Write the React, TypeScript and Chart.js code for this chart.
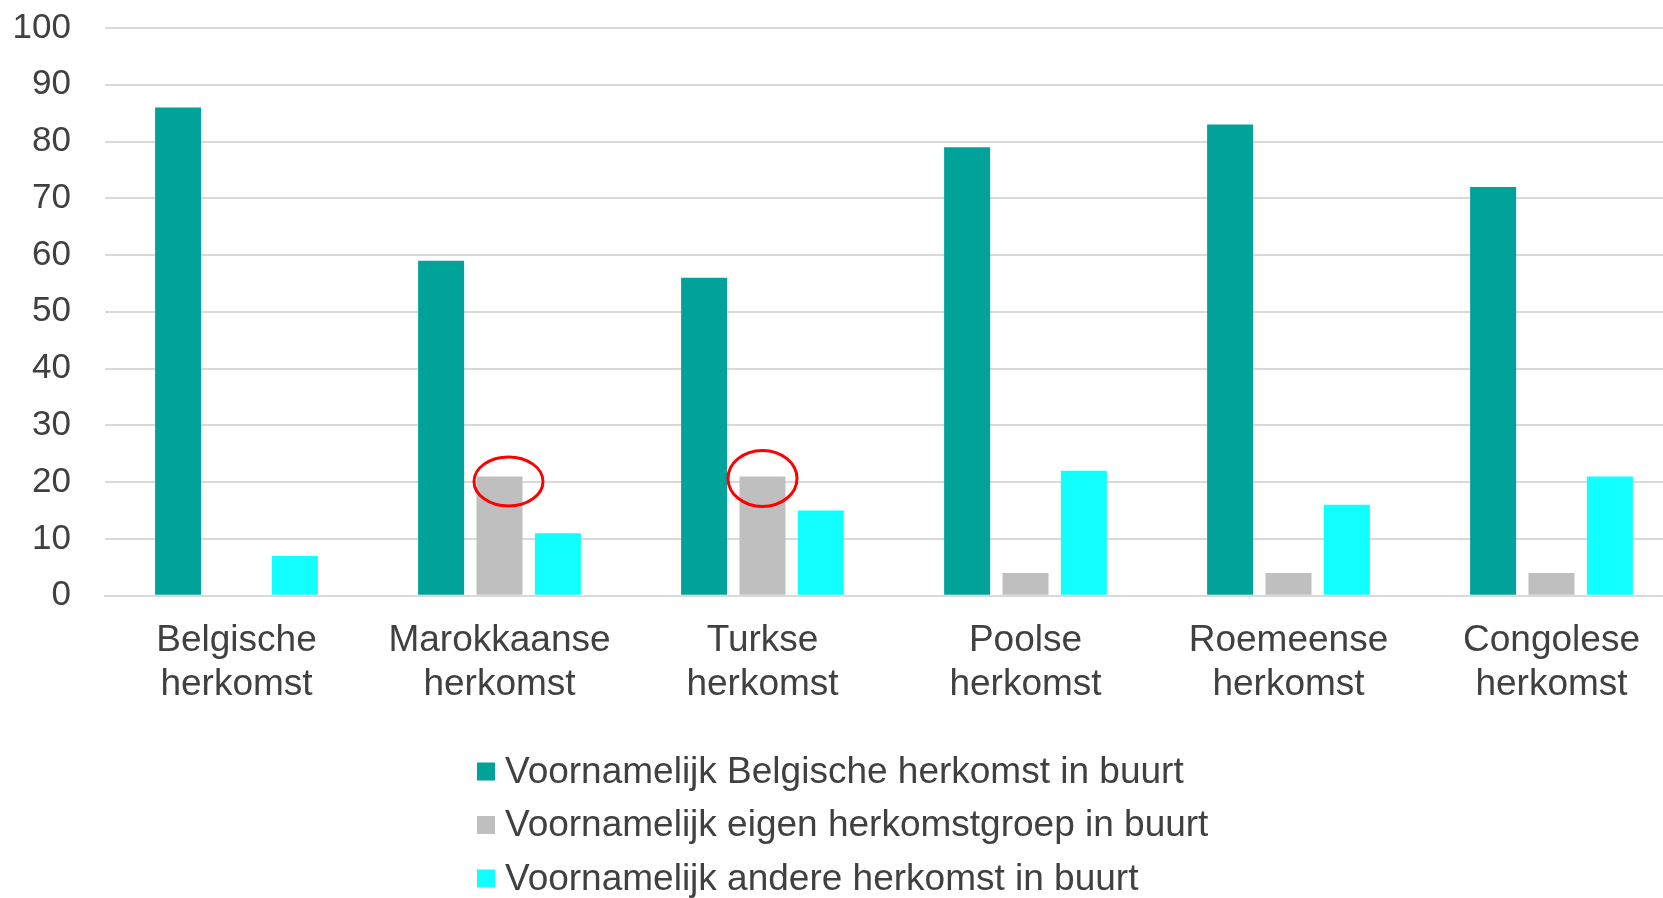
import React, { useEffect, useRef } from "react";
import { Chart, registerables } from "chart.js";

Chart.register(...registerables);

const FONT = "'Liberation Sans', Arial, Helvetica, sans-serif";

const categories: string[][] = [
  ["Belgische", "herkomst"],
  ["Marokkaanse", "herkomst"],
  ["Turkse", "herkomst"],
  ["Poolse", "herkomst"],
  ["Roemeense", "herkomst"],
  ["Congolese", "herkomst"],
];

const seriesLabels = [
  "Voornamelijk Belgische herkomst in buurt",
  "Voornamelijk eigen herkomstgroep in buurt",
  "Voornamelijk andere herkomst in buurt",
];

const belgischeBuurt = [86, 59, 56, 79, 83, 72];
const eigenGroepBuurt = [0, 21, 21, 4, 4, 4];
const andereBuurt = [7, 11, 15, 22, 16, 21];

const seriesColors = ["#00A29A", "#BFBFBF", "#11FFFF"];

// annotation circles around the grey bars (category index within dataset 1)
const highlightMarks = [
  { index: 1, dx: 9, dy: 5, rx: 34.5, ry: 24.5 },
  { index: 2, dx: 0, dy: 2, rx: 34.5, ry: 28 },
];

const ellipsePlugin = {
  id: "ellipseMarks",
  afterDatasetsDraw(chart: any, _args: any, opts: any) {
    const meta = chart.getDatasetMeta(opts.datasetIndex);
    const ctx = chart.ctx;
    ctx.save();
    ctx.strokeStyle = opts.color;
    ctx.lineWidth = opts.lineWidth;
    highlightMarks.forEach((m) => {
      const el = meta.data[m.index];
      if (!el) return;
      ctx.beginPath();
      ctx.ellipse(el.x + m.dx, el.y + m.dy, m.rx, m.ry, 0, 0, Math.PI * 2);
      ctx.stroke();
    });
    ctx.restore();
  },
};

const stackedLegendPlugin = {
  id: "stackedLegend",
  afterDraw(chart: any, _args: any, opts: any) {
    const ctx = chart.ctx;
    ctx.save();
    chart.data.datasets.forEach((ds: any, i: number) => {
      const y = opts.top + i * opts.rowGap;
      ctx.fillStyle = ds.backgroundColor;
      ctx.fillRect(opts.x, y - opts.box / 2, opts.box, opts.box);
      ctx.fillStyle = opts.color;
      ctx.font = `${opts.size}px ${FONT}`;
      ctx.textBaseline = "middle";
      ctx.textAlign = "left";
      ctx.fillText(ds.label, opts.x + opts.box + opts.gap, y + 1);
    });
    ctx.restore();
  },
};

export default function App() {
  const canvasRef = useRef<HTMLCanvasElement | null>(null);

  useEffect(() => {
    document.body.style.margin = "0";
    document.body.style.overflow = "hidden";
    const canvas = canvasRef.current;
    if (!canvas) return;
    const chart = new Chart(canvas, {
      type: "bar",
      data: {
        labels: categories,
        datasets: [
          { label: seriesLabels[0], data: belgischeBuurt, backgroundColor: seriesColors[0] },
          { label: seriesLabels[1], data: eigenGroepBuurt, backgroundColor: seriesColors[1] },
          { label: seriesLabels[2], data: andereBuurt, backgroundColor: seriesColors[2] },
        ],
      },
      plugins: [ellipsePlugin, stackedLegendPlugin],
      options: {
        responsive: false,
        animation: false,
        devicePixelRatio: 1,
        datasets: {
          bar: { categoryPercentage: 0.666, barPercentage: 0.788 },
        },
        layout: { padding: { left: 12, right: 17, top: 28, bottom: 168 } },
        plugins: {
          legend: { display: false },
          tooltip: { enabled: false },
          ellipseMarks: { datasetIndex: 1, color: "#FF0000", lineWidth: 3 },
          stackedLegend: {
            x: 477,
            top: 771.5,
            rowGap: 53.5,
            box: 18,
            gap: 10,
            size: 37,
            color: "#404040",
          },
        } as any,
        scales: {
          x: {
            grid: { display: false, drawTicks: false },
            border: { display: true, color: "#D9D9D9", width: 2 },
            ticks: {
              color: "#404040",
              font: { family: FONT, size: 37, lineHeight: 1.18 },
              padding: 23.5,
              maxRotation: 0,
              autoSkip: false,
            },
            afterFit: (scale: any) => {
              scale.paddingTop = 0;
            },
          },
          y: {
            min: 0,
            max: 100,
            grid: { color: "#D9D9D9", lineWidth: 2, drawTicks: false },
            border: { display: false },
            ticks: {
              stepSize: 10,
              color: "#404040",
              font: { family: FONT, size: 35 },
              padding: 34,
            },
            afterFit: (scale: any) => {
              scale.width = 93;
              scale.paddingTop = 0;
              scale.paddingBottom = 0;
            },
          },
        },
      },
    });
    return () => chart.destroy();
  }, []);

  return (
    <div style={{ position: "relative", width: 1663, height: 898, overflow: "hidden", background: "#fff" }}>
      <canvas ref={canvasRef} width={1700} height={898} style={{ display: "block" }} />
    </div>
  );
}
